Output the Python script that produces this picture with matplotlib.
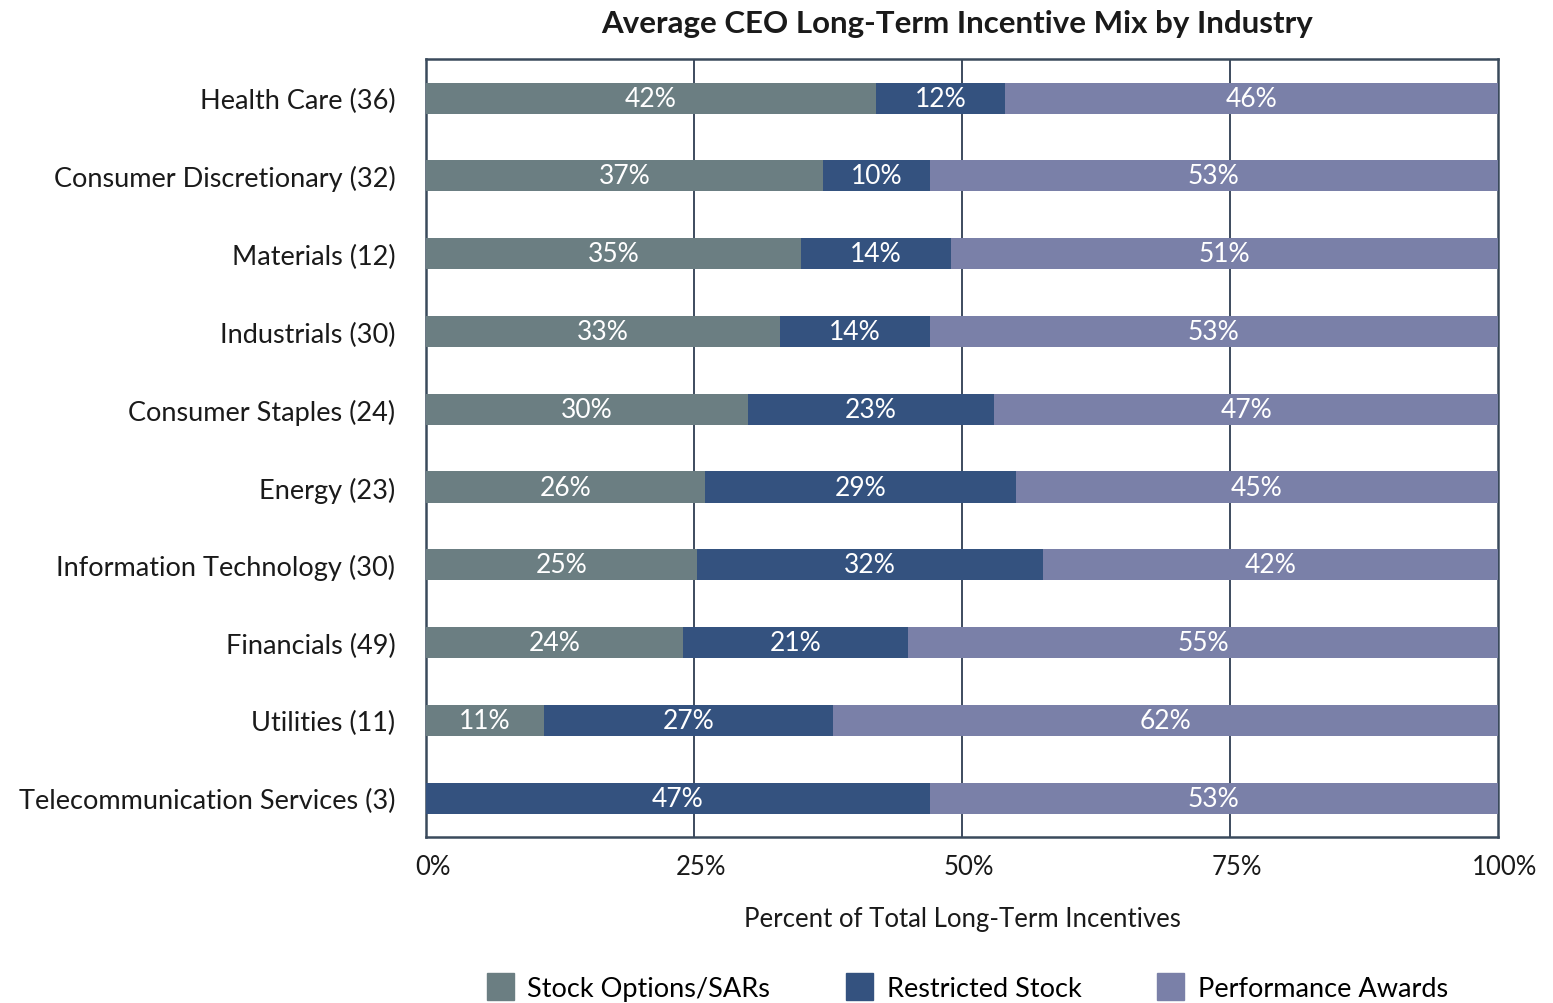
import matplotlib
matplotlib.use('Agg')
import matplotlib.pyplot as plt
import matplotlib.transforms as mtransforms
import matplotlib.patches as mpatches
import numpy as np

plt.rcParams['font.family'] = ['Lato', 'DejaVu Sans']

# data
industries = ['Health Care (36)', 'Consumer Discretionary (32)', 'Materials (12)',
              'Industrials (30)', 'Consumer Staples (24)', 'Energy (23)',
              'Information Technology (30)', 'Financials (49)', 'Utilities (11)',
              'Telecommunication Services (3)']
stock_options = [42, 37, 35, 33, 30, 26, 25, 24, 11, 0]
restricted = [12, 10, 14, 14, 23, 29, 32, 21, 27, 47]
performance = [46, 53, 51, 53, 47, 45, 42, 55, 62, 53]
series_names = ['Stock Options/SARs', 'Restricted Stock', 'Performance Awards']
colors = ['#6B7E82', '#34527F', '#7A80A8']
xticks = [0, 25, 50, 75, 100]

fig = plt.figure(figsize=(15.53, 10.04), dpi=100)
ax = fig.add_axes([0.2743, 0.1653, 0.6903, 0.7747])

y = np.arange(len(industries))
data = np.array([stock_options, restricted, performance], dtype=float)
# rounded labels don't always sum to 100, bars fill the row
widths = data / data.sum(axis=0) * 100
left = np.zeros(len(industries))
for vals, w, col, name in zip(data, widths, colors, series_names):
    ax.barh(y, w, left=left, height=0.4, color=col, label=name, zorder=3)
    for yi, (l, v, ww) in enumerate(zip(left, vals, w)):
        if v > 0:
            ax.text(l + ww / 2, yi, f'{int(v)}%', ha='center', va='center',
                    color='white', fontsize=19, zorder=4)
    left = left + w

ax.set_xlim(0, 100)
ax.set_ylim(len(industries) - 0.5, -0.5)
ax.set_yticks(y)
ax.set_yticklabels(industries, fontsize=19.5, color='#1a1a1a')
ax.set_xticks(xticks)
ax.set_xticklabels([f'{t}%' for t in xticks], fontsize=18.5, color='#1a1a1a')
ax.tick_params(axis='both', length=0, pad=12)
ax.tick_params(axis='y', pad=22)
off = mtransforms.ScaledTranslation(7 / 100, 0, fig.dpi_scale_trans)
for lbl in ax.xaxis.get_majorticklabels():
    lbl.set_transform(lbl.get_transform() + off)

for t in [25, 50, 75]:
    ax.axvline(t, color='#2E3D52', lw=1.3, zorder=1)
for sp in ax.spines.values():
    sp.set_color('#3A4A5C')
    sp.set_linewidth(1.8)

ax.set_xlabel('Percent of Total Long-Term Incentives', fontsize=18.5, color='#1a1a1a', labelpad=20)
fig.suptitle('Average CEO Long-Term Incentive Mix by Industry', x=0.616, y=0.99,
             fontsize=22.5, fontweight='bold', color='#1a1a1a')

handles = [mpatches.Patch(color=c, label=n) for c, n in zip(colors, series_names)]
fig.legend(handles=handles, loc='lower center', bbox_to_anchor=(0.623, -0.022), ncol=3,
           frameon=False, fontsize=19.5, handlelength=1.0, handleheight=1.2,
           columnspacing=2.8, handletextpad=0.5)

fig.savefig('out.png', dpi=100)
